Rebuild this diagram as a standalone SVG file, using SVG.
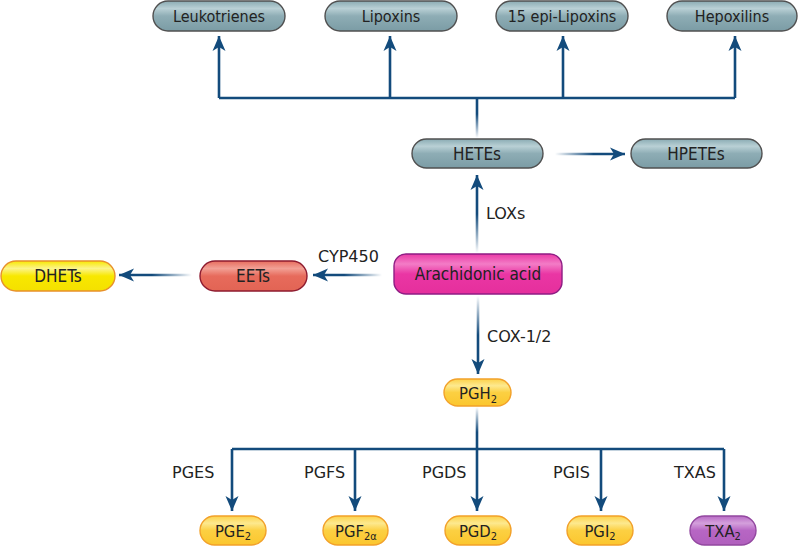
<svg xmlns="http://www.w3.org/2000/svg" width="800" height="546" viewBox="0 0 800 546">
<style>
.n{font-family:"DejaVu Sans Condensed","DejaVu Sans","Liberation Sans",sans-serif;font-stretch:condensed;font-size:16.5px;fill:#222;text-anchor:middle}
.t{font-size:16px}
.b{font-size:17px}
.l{font-family:"DejaVu Sans","Liberation Sans",sans-serif;font-size:16px;fill:#222}
.c{fill:none;stroke:#134b7c;stroke-width:2.6}
.teal{fill:url(#gTeal);stroke:#505050;stroke-width:1.4}
.yel{fill:url(#gYel);stroke:#f2a12a;stroke-width:1.4}
</style>
<defs>
<linearGradient id="gTeal" x1="0" y1="0" x2="0" y2="1">
<stop offset="0" stop-color="#8aabb3"/><stop offset="0.25" stop-color="#b9d0d5"/><stop offset="0.5" stop-color="#8eadb5"/><stop offset="1" stop-color="#7b9ca5"/>
</linearGradient>
<linearGradient id="gYel" x1="0" y1="0" x2="0" y2="1">
<stop offset="0" stop-color="#fcd24a"/><stop offset="0.25" stop-color="#fde98f"/><stop offset="0.5" stop-color="#fcd042"/><stop offset="1" stop-color="#fbc62e"/>
</linearGradient>
<linearGradient id="gYel2" x1="0" y1="0" x2="0" y2="1">
<stop offset="0" stop-color="#f8e800"/><stop offset="0.25" stop-color="#fcf48a"/><stop offset="0.5" stop-color="#f8e800"/><stop offset="1" stop-color="#f4e000"/>
</linearGradient>
<linearGradient id="gRed" x1="0" y1="0" x2="0" y2="1">
<stop offset="0" stop-color="#e76d5e"/><stop offset="0.25" stop-color="#f2a095"/><stop offset="0.5" stop-color="#e76b5c"/><stop offset="1" stop-color="#e26454"/>
</linearGradient>
<linearGradient id="gMag" x1="0" y1="0" x2="0" y2="1">
<stop offset="0" stop-color="#ea3aa6"/><stop offset="0.25" stop-color="#f37cc6"/><stop offset="0.5" stop-color="#ea36a4"/><stop offset="1" stop-color="#e52f9c"/>
</linearGradient>
<linearGradient id="gPur" x1="0" y1="0" x2="0" y2="1">
<stop offset="0" stop-color="#b86ac5"/><stop offset="0.25" stop-color="#d4a0dc"/><stop offset="0.5" stop-color="#b766c4"/><stop offset="1" stop-color="#b05fbd"/>
</linearGradient>
<linearGradient id="fHP" gradientUnits="userSpaceOnUse" x1="555" y1="0" x2="625" y2="0">
<stop offset="0" stop-color="#134b7c" stop-opacity="0"/><stop offset="0.55" stop-color="#134b7c"/>
</linearGradient>
<linearGradient id="fEET" gradientUnits="userSpaceOnUse" x1="382" y1="0" x2="313" y2="0">
<stop offset="0" stop-color="#134b7c" stop-opacity="0"/><stop offset="0.55" stop-color="#134b7c"/>
</linearGradient>
<linearGradient id="fDH" gradientUnits="userSpaceOnUse" x1="192" y1="0" x2="119" y2="0">
<stop offset="0" stop-color="#134b7c" stop-opacity="0"/><stop offset="0.55" stop-color="#134b7c"/>
</linearGradient>
<linearGradient id="fLOX" gradientUnits="userSpaceOnUse" x1="0" y1="253" x2="0" y2="175">
<stop offset="0" stop-color="#134b7c" stop-opacity="0"/><stop offset="0.5" stop-color="#134b7c"/>
</linearGradient>
<linearGradient id="fCOX" gradientUnits="userSpaceOnUse" x1="0" y1="296" x2="0" y2="374">
<stop offset="0" stop-color="#134b7c" stop-opacity="0"/><stop offset="0.5" stop-color="#134b7c"/>
</linearGradient>
<linearGradient id="fPGH" gradientUnits="userSpaceOnUse" x1="0" y1="407" x2="0" y2="449">
<stop offset="0" stop-color="#134b7c" stop-opacity="0"/><stop offset="0.6" stop-color="#134b7c"/>
</linearGradient>
<linearGradient id="fHE" gradientUnits="userSpaceOnUse" x1="0" y1="138" x2="0" y2="98">
<stop offset="0" stop-color="#134b7c" stop-opacity="0"/><stop offset="0.6" stop-color="#134b7c"/>
</linearGradient>
<marker id="ah" markerUnits="userSpaceOnUse" markerWidth="15" markerHeight="15" viewBox="0 0 15 13" refX="15" refY="6.5" orient="auto">
<path d="M0,0 L15,6.5 L0,13 L4,6.5 z" fill="#134b7c"/>
</marker>
</defs>

<g id="connectors">
<path class="c" style="stroke:url(#fHE)" d="M477,138 V98"/>
<path class="c" d="M219,98 H735"/>
<path class="c" d="M219,98 V36" marker-end="url(#ah)"/>
<path class="c" d="M390,98 V36" marker-end="url(#ah)"/>
<path class="c" d="M563,98 V36" marker-end="url(#ah)"/>
<path class="c" d="M735,98 V36" marker-end="url(#ah)"/>
<path class="c" style="stroke:url(#fHP)" d="M555,154 H625" marker-end="url(#ah)"/>
<path class="c" style="stroke:url(#fLOX)" d="M477,253 V175" marker-end="url(#ah)"/>
<path class="c" style="stroke:url(#fEET)" d="M382,275 H313" marker-end="url(#ah)"/>
<path class="c" style="stroke:url(#fDH)" d="M192,275 H119" marker-end="url(#ah)"/>
<path class="c" style="stroke:url(#fCOX)" d="M478,296 V374" marker-end="url(#ah)"/>
<path class="c" style="stroke:url(#fPGH)" d="M477,407 V449"/>
<path class="c" d="M232,449 H724"/>
<path class="c" d="M232,449 V511" marker-end="url(#ah)"/>
<path class="c" d="M355,449 V511" marker-end="url(#ah)"/>
<path class="c" d="M477,449 V511" marker-end="url(#ah)"/>
<path class="c" d="M601,449 V511" marker-end="url(#ah)"/>
<path class="c" d="M724,449 V511" marker-end="url(#ah)"/>
</g>

<g id="labels">
<text class="l" x="486" y="219">LOXs</text>
<text class="l" x="318" y="262">CYP450</text>
<text class="l" x="487" y="342">COX-1/2</text>
<text class="l" x="172" y="478">PGES</text>
<text class="l" x="304" y="478">PGFS</text>
<text class="l" x="422" y="478">PGDS</text>
<text class="l" x="553" y="478">PGIS</text>
<text class="l" x="674" y="478">TXAS</text>
</g>

<g id="leukotrienes"><rect class="teal" x="153" y="1" width="132" height="30" rx="15"/><text class="n t" x="219" y="21.5">Leukotrienes</text></g>
<g id="lipoxins"><rect class="teal" x="325" y="1" width="132" height="30" rx="15"/><text class="n t" x="391" y="21.5">Lipoxins</text></g>
<g id="epi-lipoxins"><rect class="teal" x="496" y="1" width="132" height="30" rx="15"/><text class="n t" x="562" y="21.5">15 epi-Lipoxins</text></g>
<g id="hepoxilins"><rect class="teal" x="667" y="1" width="130" height="30" rx="15"/><text class="n t" x="732" y="21.5">Hepoxilins</text></g>
<g id="hetes"><rect class="teal" x="412" y="139" width="131" height="29" rx="14.5"/><text class="n b" x="477" y="160">HETEs</text></g>
<g id="hpetes"><rect class="teal" x="631" y="139" width="131" height="29" rx="14.5"/><text class="n b" x="696" y="160">HPETEs</text></g>
<g id="arachidonic"><rect x="394" y="254" width="168" height="40" rx="12" fill="url(#gMag)" stroke="#8e1d84" stroke-width="1.4"/><text class="n b" x="478" y="280">Arachidonic acid</text></g>
<g id="eets"><rect x="200" y="261" width="107" height="30" rx="15" fill="url(#gRed)" stroke="#8e1b2f" stroke-width="1.4"/><text class="n b" x="253" y="282">EETs</text></g>
<g id="dhets"><rect x="1" y="261" width="114" height="30" rx="15" fill="url(#gYel2)" stroke="#e8902a" stroke-width="1.4"/><text class="n b" x="58" y="282">DHETs</text></g>
<g id="pgh2"><rect class="yel" x="444" y="379" width="67" height="27" rx="13.5"/><text class="n" x="478" y="399">PGH<tspan font-size="11" dy="3.5">2</tspan></text></g>
<g id="pge2"><rect class="yel" x="200" y="516" width="66" height="29" rx="14.5"/><text class="n" x="233" y="536.5">PGE<tspan font-size="11" dy="3.5">2</tspan></text></g>
<g id="pgf2a"><rect class="yel" x="323" y="516" width="65" height="29" rx="14.5"/><text class="n" x="356" y="536.5">PGF<tspan font-size="11" dy="3.5">2α</tspan></text></g>
<g id="pgd2"><rect class="yel" x="445" y="516" width="66" height="29" rx="14.5"/><text class="n" x="478" y="536.5">PGD<tspan font-size="11" dy="3.5">2</tspan></text></g>
<g id="pgi2"><rect class="yel" x="567" y="516" width="66" height="29" rx="14.5"/><text class="n" x="600" y="536.5">PGI<tspan font-size="11" dy="3.5">2</tspan></text></g>
<g id="txa2"><rect x="690" y="516" width="66" height="29" rx="14.5" fill="url(#gPur)" stroke="#9348a0" stroke-width="1.4"/><text class="n" x="723" y="536.5">TXA<tspan font-size="11" dy="3.5">2</tspan></text></g>
</svg>
